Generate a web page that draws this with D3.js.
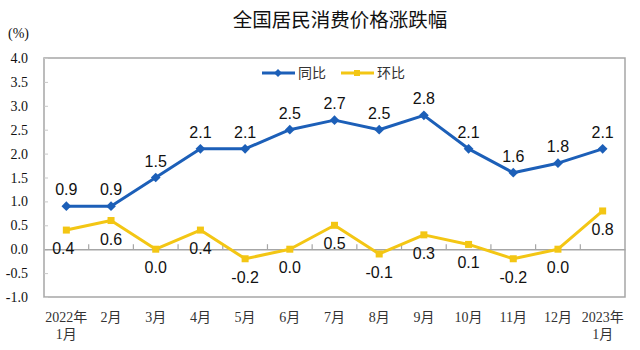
<!DOCTYPE html>
<html>
<head>
<meta charset="utf-8">
<script src="https://cdn.jsdelivr.net/npm/d3@7"></script>
<style>
  html, body { margin: 0; padding: 0; background: #fff; }
  svg { display: block; }
</style>
</head>
<body>
<svg id="chart" width="640" height="350"></svg>
<script>
// Months shown along the x axis (two-line labels use "\n")
const months = ["2022年\n1月", "2月", "3月", "4月", "5月", "6月", "7月", "8月", "9月", "10月", "11月", "12月", "2023年\n1月"];
// Year-on-year change (%)
const yoy = [0.9, 0.9, 1.5, 2.1, 2.1, 2.5, 2.7, 2.5, 2.8, 2.1, 1.6, 1.8, 2.1];
// Month-on-month change (%)
const mom = [0.4, 0.6, 0.0, 0.4, -0.2, 0.0, 0.5, -0.1, 0.3, 0.1, -0.2, 0.0, 0.8];
// Y axis ticks
const yTicks = [-1.0, -0.5, 0.0, 0.5, 1.0, 1.5, 2.0, 2.5, 3.0, 3.5, 4.0];
const seriesNames = ["同比", "环比"];

const BLUE = "#1c5fb8";
const GOLD = "#f3c614";

const svg = d3.select("#chart");
const plot = { left: 44, right: 625, top: 58, bottom: 297 };

const x = d3.scaleBand().domain(months).range([plot.left, plot.right]);
const y = d3.scaleLinear().domain([-1, 4]).range([plot.bottom, plot.top]);
const cx = (i) => x(months[i]) + x.bandwidth() / 2;

// Title
svg.append("text")
  .attr("x", 340).attr("y", 27)
  .attr("text-anchor", "middle")
  .attr("font-family", "'Noto Sans CJK SC', sans-serif")
  .attr("font-size", 19.5)
  .attr("fill", "#111")
  .text("全国居民消费价格涨跌幅");

// Unit label
svg.append("text")
  .attr("x", 8).attr("y", 38)
  .attr("font-family", "'Liberation Serif', serif")
  .attr("font-size", 14)
  .attr("fill", "#111")
  .text("(%)");

// Plot frame
svg.append("rect")
  .attr("x", plot.left).attr("y", plot.top)
  .attr("width", plot.right - plot.left).attr("height", plot.bottom - plot.top)
  .attr("fill", "none").attr("stroke", "#a6a6a6").attr("stroke-width", 1.5);

// Y axis: labels outside, short ticks inside the frame
const yAxis = svg.append("g")
  .attr("transform", `translate(${plot.left},0)`)
  .call(d3.axisRight(y).tickValues(yTicks).tickSize(4).tickFormat(""));
yAxis.select(".domain").remove();
yAxis.selectAll("line").attr("stroke", "#c8c8c8");

svg.append("g").selectAll("text")
  .data(yTicks).join("text")
  .attr("x", 28).attr("y", d => y(d) + 5)
  .attr("text-anchor", "end")
  .attr("font-family", "'Liberation Serif', serif")
  .attr("font-size", 14)
  .attr("fill", "#111")
  .text(d => d3.format(".1f")(d).replace("−", "-"));

// Zero line with category ticks pointing up
const xAxis = svg.append("g")
  .attr("transform", `translate(0,${y(0)})`)
  .call(d3.axisTop(x).tickSize(0).tickFormat(""));
xAxis.select(".domain").attr("stroke", "#a6a6a6").attr("stroke-width", 1.5);
xAxis.selectAll(".tick").remove();
svg.append("g").selectAll("line")
  .data(months.slice(1))
  .join("line")
  .attr("x1", d => x(d)).attr("x2", d => x(d))
  .attr("y1", y(0)).attr("y2", y(0) - 5)
  .attr("stroke", "#a6a6a6").attr("stroke-width", 1.2);

// X labels under the frame
const xl = svg.append("g").selectAll("text")
  .data(months).join("text")
  .attr("x", d => x(d) + x.bandwidth() / 2)
  .attr("y", 322)
  .attr("text-anchor", "middle")
  .attr("font-family", "'Liberation Serif', 'Noto Sans CJK SC', serif")
  .attr("font-size", 14)
  .attr("fill", "#333");
xl.each(function(d) {
  const lines = d.split("\n");
  d3.select(this).selectAll("tspan").data(lines).join("tspan")
    .attr("x", x(d) + x.bandwidth() / 2)
    .attr("dy", (l, i) => i === 0 ? 0 : 17)
    .text(l => l);
});

const line = d3.line().x((d, i) => cx(i)).y(d => y(d));

// Month-on-month series
svg.append("path").datum(mom)
  .attr("d", line).attr("fill", "none")
  .attr("stroke", GOLD).attr("stroke-width", 3).attr("stroke-linejoin", "round");
svg.append("g").selectAll("rect")
  .data(mom).join("rect")
  .attr("x", (d, i) => cx(i) - 3.5).attr("y", d => y(d) - 3.5)
  .attr("width", 7).attr("height", 7).attr("fill", GOLD);

// Year-on-year series
svg.append("path").datum(yoy)
  .attr("d", line).attr("fill", "none")
  .attr("stroke", BLUE).attr("stroke-width", 3).attr("stroke-linejoin", "round");
svg.append("g").selectAll("path")
  .data(yoy).join("path")
  .attr("d", d3.symbol(d3.symbolDiamond2, 60))
  .attr("transform", (d, i) => `translate(${cx(i)},${y(d)})`)
  .attr("fill", BLUE);

// Value labels
const labelFont = "'Liberation Sans', Arial, sans-serif";
svg.append("g").selectAll("text")
  .data(yoy).join("text")
  .attr("x", (d, i) => cx(i)).attr("y", d => y(d) - 11)
  .attr("text-anchor", "middle")
  .attr("font-family", labelFont).attr("font-size", 16).attr("fill", "#111")
  .text(d => d.toFixed(1));
svg.append("g").selectAll("text")
  .data(mom).join("text")
  .attr("x", (d, i) => cx(i) - (i === 0 ? 3 : 0)).attr("y", d => y(d) + 24)
  .attr("text-anchor", "middle")
  .attr("font-family", labelFont).attr("font-size", 16).attr("fill", "#111")
  .text(d => d.toFixed(1));

// Legend
const legend = svg.append("g").attr("transform", "translate(0,73)");
const legendItems = [
  { name: seriesNames[0], color: BLUE, x: 262, marker: "diamond" },
  { name: seriesNames[1], color: GOLD, x: 341, marker: "square" }
];
legendItems.forEach(it => {
  legend.append("line")
    .attr("x1", it.x).attr("x2", it.x + 33).attr("y1", 0).attr("y2", 0)
    .attr("stroke", it.color).attr("stroke-width", 3);
  if (it.marker === "diamond") {
    legend.append("path").attr("d", d3.symbol(d3.symbolDiamond2, 40))
      .attr("transform", `translate(${it.x + 16},0)`).attr("fill", it.color);
  } else {
    legend.append("rect").attr("x", it.x + 13).attr("y", -3)
      .attr("width", 6).attr("height", 6).attr("fill", it.color);
  }
  legend.append("text")
    .attr("x", it.x + 36).attr("y", 5)
    .attr("font-family", "'Noto Sans CJK SC', sans-serif")
    .attr("font-size", 14).attr("fill", "#333")
    .text(it.name);
});
</script>
</body>
</html>
